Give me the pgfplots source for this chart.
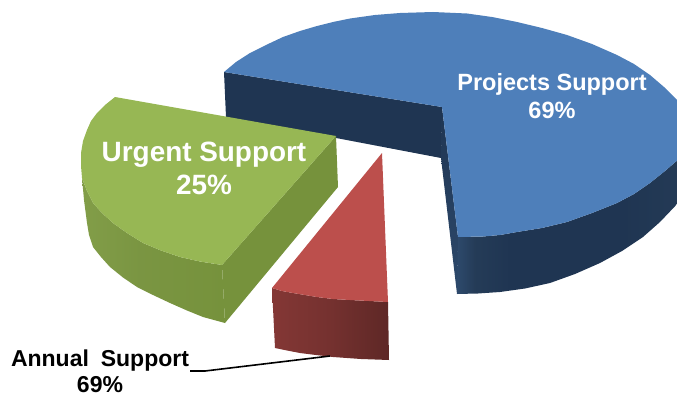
\documentclass[border=0pt]{standalone}
\usepackage{fontspec}
\setmainfont{Liberation Sans}
\usepackage{pgfplots}
\pgfplotsset{compat=1.18}

% Slice colours
\definecolor{blueTop}{HTML}{4E7FBA}
\definecolor{blueDark}{HTML}{1F3552}
\definecolor{greenTop}{HTML}{97B754}
\definecolor{greenSide}{HTML}{76923C}
\definecolor{redTop}{HTML}{BC4F4C}

% Rim shadings, lighter towards the lit end of each arc
\pgfdeclarehorizontalshading{blueRim}{100bp}{
  color(0bp)=(blueTop!58!black);
  color(25bp)=(blueTop!58!black);
  color(29bp)=(blueTop!47!black);
  color(37bp)=(blueDark);
  color(62bp)=(blueDark);
  color(75bp)=(blueTop!46!black);
  color(100bp)=(blueTop!46!black)}
\pgfdeclarehorizontalshading{greenRim}{100bp}{
  color(0bp)=(greenSide);
  color(25bp)=(greenTop!86!black);
  color(45bp)=(greenSide!97!white);
  color(75bp)=(greenSide);
  color(100bp)=(greenSide)}
\pgfdeclarehorizontalshading{redRim}{100bp}{
  color(0bp)=(redTop!70!black);
  color(25bp)=(redTop!70!black);
  color(50bp)=(redTop!62!black);
  color(75bp)=(redTop!50!black);
  color(100bp)=(redTop!50!black)}

\pgfplotsset{slice/.style={draw=none, no markers, forget plot}}

\begin{document}
\begin{tikzpicture}
\useasboundingbox (0,0) rectangle (677pt,396pt);
\begin{axis}[
  at={(0,0)}, anchor=south west,
  width=677pt, height=396pt, scale only axis,
  xmin=0, xmax=677, ymin=0, ymax=396, y dir=reverse,
  hide axis, clip=true]

% Projects Support: back wall of the cut-out
\addplot[slice, fill=blueDark] coordinates {
  (224,72) (442,107) (441,158) (226,117)} -- cycle;
% Projects Support: outer rim
\addplot[slice, shading=blueRim] coordinates {
  (458,237) (483,236.5) (500,235) (517,232) (542,228) (567,222) (592,213) (617,203) (634,194)
  (650,183) (665,171) (680,158)
  (680,201) (660,222) (643,237) (622,251) (600,263) (575,274) (550,283) (525,288.5) (500,292)
  (478,293.5) (457,294)} -- cycle;
% Projects Support: inner wall down to the rim
\addplot[slice, top color=blueDark, bottom color=blueTop!58!black] coordinates {
  (442,107) (458,237) (457,294) (441,158)} -- cycle;
% Projects Support: top face
\addplot[slice, fill=blueTop] coordinates {
  (224,72) (236,62) (250,53) (266,45) (283,37) (300,31) (317,26) (333,22) (350,18.5) (375,15)
  (400,13) (433,12) (467,13.5) (492,17) (517,22) (542,28) (567,35) (592,44) (617,55) (634,64)
  (650,75) (664,87) (680,103)
  (680,158) (665,171) (650,183) (634,194) (617,203) (592,213) (567,222) (542,228) (517,232)
  (500,235) (483,236.5) (458,237)
  (442,107)} -- cycle;

% Urgent Support: straight wall
\addplot[slice, fill=greenSide] coordinates {
  (222,265) (336,136) (338,187) (225,323)} -- cycle;
% Urgent Support: outer rim
\addplot[slice, shading=greenRim] coordinates {
  (82,178) (87,191) (93,203) (102,213) (113,223) (127,233) (143,243) (161,250.5) (180,257)
  (200,261.5) (222,265)
  (225,323) (214,320) (203,317) (187,310.5) (170,303) (153,295) (137,287) (123,277.5) (110,267)
  (101,257) (93,247) (89,235) (87,223) (84,200)} -- cycle;
% Urgent Support: top face
\addplot[slice, fill=greenTop] coordinates {
  (115,97) (105,105) (97,113) (91,121) (87,130) (83,141) (81,153) (81,166) (82,178) (87,191)
  (93,203) (102,213) (113,223) (127,233) (143,243) (161,250.5) (180,257) (200,261.5) (222,265)
  (336,136)} -- cycle;

% Annual Support: outer rim
\addplot[slice, shading=redRim] coordinates {
  (272,288) (282,291) (293,293) (305,295) (317,297) (333,299) (350,300) (369,301) (388,302)
  (389,360) (361,359) (333,357) (316,355) (300,353) (287,350.5) (275,348)} -- cycle;
% Annual Support: top face
\addplot[slice, fill=redTop] coordinates {
  (382,153) (388,302) (369,301) (350,300) (333,299) (317,297) (305,295) (293,293) (282,291) (272,288)} -- cycle;

% Leader line of the outside label
\addplot[black, line width=1.6pt, no markers, forget plot] coordinates {
  (190,371) (205,371) (330,356)};

\node[font=\bfseries\fontsize{23.5}{28}\selectfont, text=white, align=center]
  at (axis cs:552,96) {Projects Support\\[0pt]69\%};
\node[font=\bfseries\fontsize{27.9}{33}\selectfont, text=white, align=center]
  at (axis cs:204,168) {Urgent Support\\[0pt]25\%};
\node[font=\bfseries\fontsize{23}{26}\selectfont, text=black, align=center, inner sep=0pt]
  at (axis cs:100,371.5) {Annual\hspace{5.5pt} Support\\[0pt]69\%};
\end{axis}
\end{tikzpicture}
\end{document}
